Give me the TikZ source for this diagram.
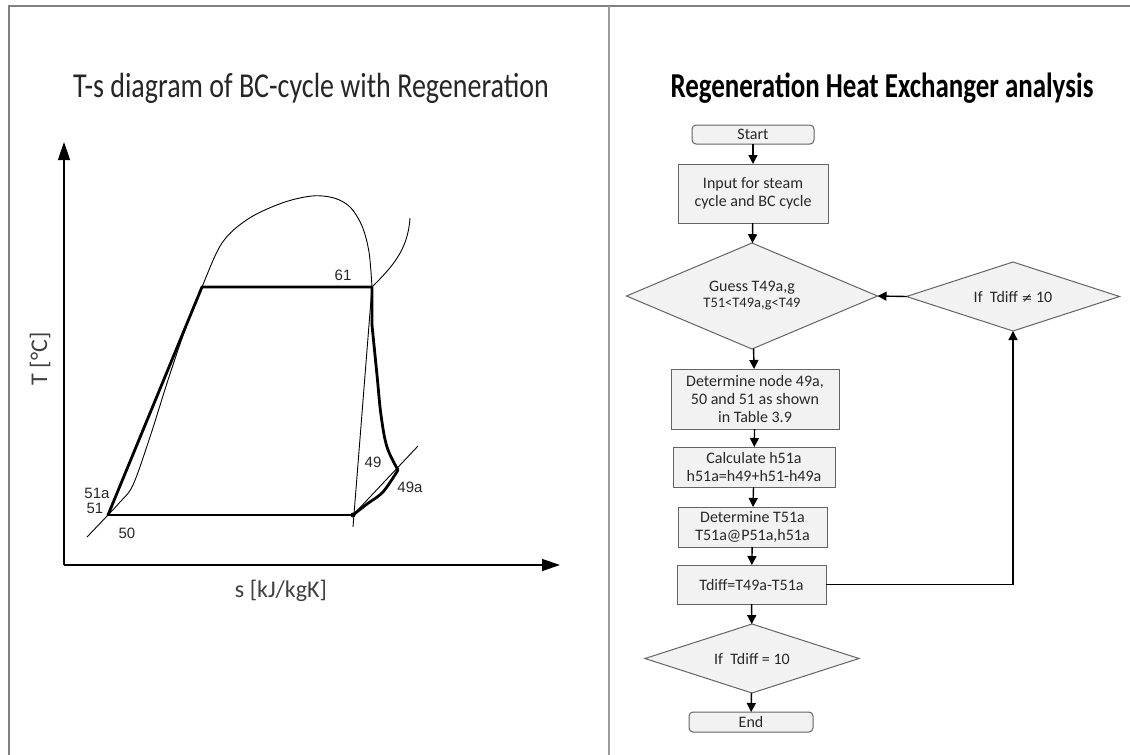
\documentclass[tikz,border=0pt]{standalone}
\usepackage{fontspec}
\setmainfont{Carlito}
\newfontfamily\ptfont{Liberation Sans}
\newfontfamily\symfont{DejaVu Sans}
\usetikzlibrary{arrows.meta,shapes.geometric}
\definecolor{frame}{RGB}{128,128,128}
\definecolor{boxfill}{RGB}{242,242,242}
\definecolor{boxline}{RGB}{100,100,100}
\definecolor{ink}{RGB}{40,40,40}
\tikzset{
  thinline/.style={line width=0.9pt},
  thickline/.style={line width=2.8pt, line join=round, line cap=round},
  axis/.style={line width=1.3pt, -{Triangle[length=18pt,width=12pt]}},
  ptlabel/.style={font=\ptfont\fontsize{15}{15}\selectfont, text=black!85, inner sep=0pt},
  axlabel/.style={font=\fontsize{24}{26}\selectfont, text=black!75},
  titletext/.style={inner sep=0pt, anchor=base},
  flowtext/.style={font=\fontsize{16}{18}\selectfont, text=ink, align=center},
  procbox/.style={flowtext, rectangle, draw=boxline, fill=boxfill, line width=1pt, inner sep=0pt, outer sep=0pt},
  termbox/.style={procbox, rounded corners=4pt},
  decision/.style={flowtext, diamond, draw=boxline, fill=boxfill, line width=1pt, inner sep=0pt, outer sep=0pt, shape aspect=2.4},
  flowarrow/.style={line width=1.4pt, -{Triangle[length=9pt,width=9pt]}},
}
\begin{document}
\begin{tikzpicture}[x=1pt,y=-1pt]
\useasboundingbox (0,0) rectangle (1130,755);

% frame of the two panels
\draw[frame, line width=2pt] (8.5,755) -- (8.5,6) -- (1130,6);
\draw[frame!80, line width=1.5pt] (609,6) -- (609,755);

% ---------------- left panel: T-s diagram ----------------
\node[titletext, text=black!85] (ltitle) at (311,97)
  {\scalebox{0.8}[1]{\fontsize{35}{38}\selectfont T-s diagram of BC-cycle with Regeneration}};

\coordinate (O) at (64,565);
\coordinate (Ytip) at (64,142);
\coordinate (Xtip) at (560,565);
\draw[axis] (O) -- (Ytip);
\draw[axis] (O) -- (Xtip);
\node[axlabel, rotate=90] (tlab) at (40,359) {T [°C]};
\node[axlabel] (slab) at (281,591) {s [kJ/kgK]};

% state points
\coordinate (p51) at (108,515);
\coordinate (p61l) at (202,287);
\coordinate (p61) at (372,287);
\coordinate (p49) at (353,515);
\coordinate (p49a) at (398,470);

% saturation dome with the low-pressure isobar through 51
\draw[thinline] plot[smooth, tension=0.55] coordinates {
  (87,537) (108,515) (120,502) (133,485) (150,437) (168,380) (185,330) (202,287)
  (222,243) (248,219) (282,203) (312,196) (334,198) (350,207) (362,226) (369,252) (372,287)};
% superheated isobar beyond 61
\draw[thinline] (p61) .. controls (392,267) and (408,250) .. (410,218);
% isobar through 49 and isentrope through 61
\draw[thinline] (p61) -- (353,527);
\draw[thinline] (p49) -- (418,446);

% cycle path
\draw[thickline] (p51) -- (p61l) -- (p61) -- (372,325);
\draw[thickline] plot[smooth, tension=0.6] coordinates {(372,325) (377,375) (381,415) (387,447) (398,470)};
\draw[thickline] plot[smooth, tension=0.5] coordinates {(p49) (367,504) (383,492) (p49a)};
\draw[thickline] (p51) -- (p49);
\fill (p49) circle (2.5pt);

\node[ptlabel] (l61) at (343,275) {61};
\node[ptlabel] (l51a) at (97,493) {51a};
\node[ptlabel] (l51) at (95,508) {51};
\node[ptlabel] (l50) at (127,533) {50};
\node[ptlabel] (l49) at (373,462) {49};
\node[ptlabel] (l49a) at (410,487) {49a};

% ---------------- right panel: flow chart ----------------
\node[titletext, text=black] (rtitle) at (882,97)
  {\scalebox{0.77}[1]{\bfseries\fontsize{35}{38}\selectfont Regeneration Heat Exchanger analysis}};

\node[termbox, minimum width=122pt, minimum height=19pt] (start) at (753,134.5) {Start};
\node[procbox, minimum width=150pt, minimum height=59pt] (input) at (753,193.5) {Input for steam\\cycle and BC cycle};
\node[decision, minimum width=251pt, minimum height=106pt] (guess) at (752,296)
  {Guess T49a,g\\[-2pt]{\fontsize{14.5}{16}\selectfont T51<T49a,g<T49}};
\node[decision, minimum width=213pt, minimum height=69pt] (neq) at (1013,296.5) {If\ \ Tdiff {\symfont\fontsize{13}{16}\selectfont ≠} 10};
\node[procbox, minimum width=168pt, minimum height=60pt] (nodes) at (755,399) {Determine node 49a,\\50 and 51 as shown\\in Table 3.9};
\node[procbox, minimum width=162pt, minimum height=40pt] (calc) at (754,467) {Calculate h51a\\h51a=h49+h51-h49a};
\node[procbox, minimum width=149pt, minimum height=40pt] (detT) at (752.5,527) {Determine T51a\\T51a@P51a,h51a};
\node[procbox, minimum width=149pt, minimum height=39pt] (tdiff) at (751.5,584.5) {Tdiff=T49a-T51a};
\node[decision, minimum width=214pt, minimum height=69pt] (eq) at (752,658.5) {If\ \ Tdiff = 10};
\node[termbox, minimum width=124pt, minimum height=20pt] (end) at (751,722) {End};

\draw[flowarrow] (start) -- (input);
\draw[flowarrow] (input) -- (guess);
\draw[flowarrow] (guess) -- (nodes);
\draw[flowarrow] (nodes) -- (calc);
\draw[flowarrow] (calc) -- (detT);
\draw[flowarrow] (detT) -- (tdiff);
\draw[flowarrow] (tdiff) -- (eq);
\draw[flowarrow] (eq) -- (end);
\draw[flowarrow] (tdiff.east) -| (neq.south);
\draw[flowarrow] (neq.west) -- (guess.east);
\end{tikzpicture}
\end{document}
